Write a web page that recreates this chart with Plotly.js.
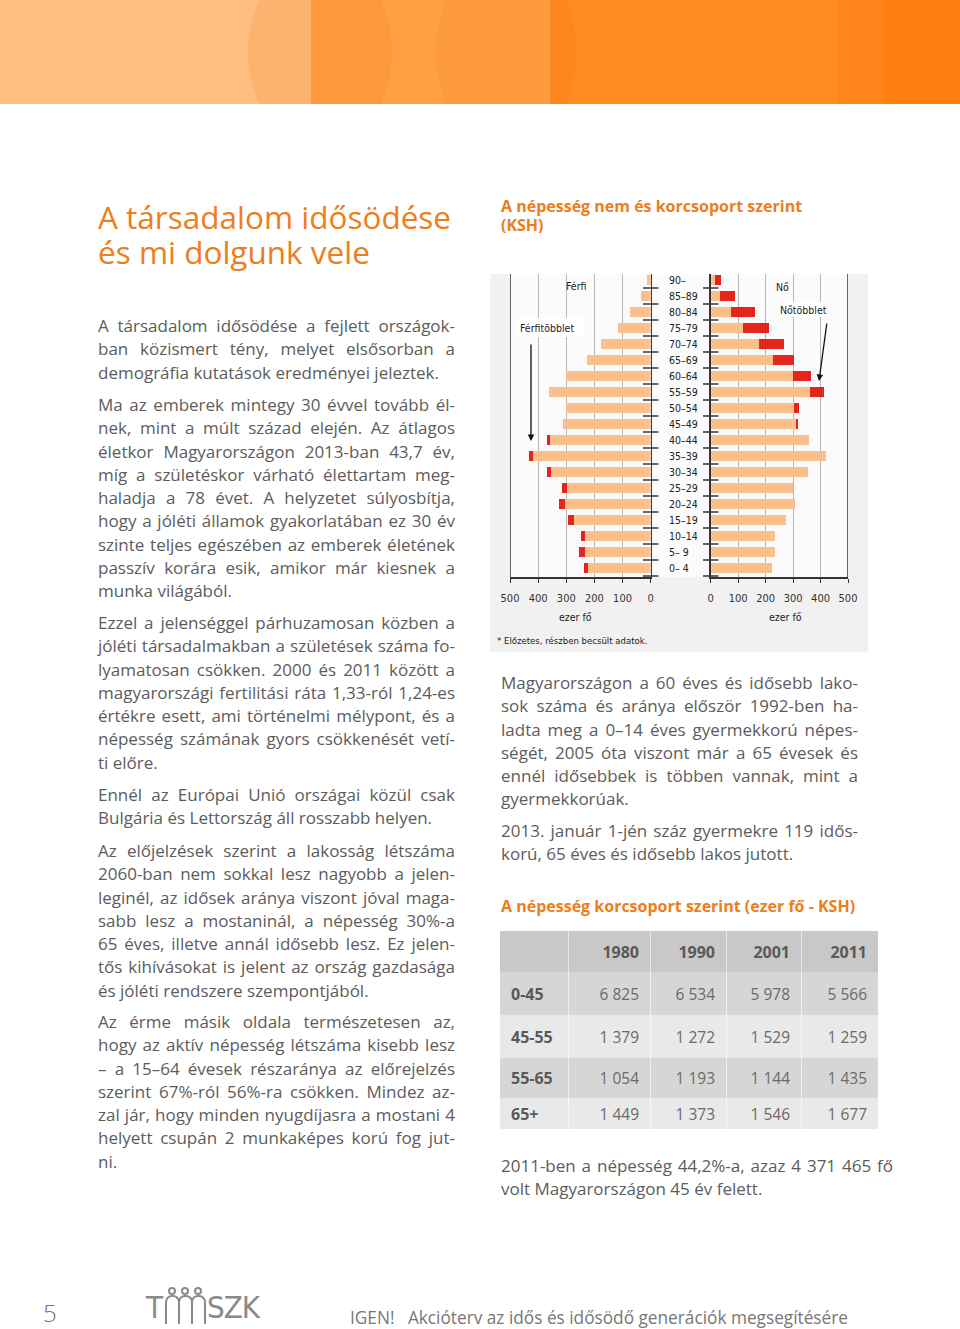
<!DOCTYPE html>
<html><head><meta charset="utf-8">
<script src="https://cdn.plot.ly/plotly-3.0.1.min.js"></script>
<style>
html,body{margin:0;padding:0;background:#fff;}
#page{position:relative;width:960px;height:1329px;overflow:hidden;font-family:'Open Sans',sans-serif;background:#fff;}
.abs{position:absolute;}
.para{position:absolute;font-size:17px;line-height:23.25px;color:#5c5c5c;}
.para .ln{white-space:pre;}
.cell{position:absolute;box-sizing:border-box;display:flex;align-items:center;font-size:15.5px;color:#6a6a6a;border-right:1px solid rgba(255,255,255,0.6);}
.logotxt{position:absolute;white-space:nowrap;font-size:31px;line-height:40px;font-weight:400;color:#8a8a8a;overflow:visible;}
</style></head>
<body><div id="page">
  <!-- banner -->
  <div class="abs" style="left:0;top:0;width:960px;height:104px;background:#ff8b21;overflow:hidden">
    <div class="abs" style="left:0;top:0;width:311px;height:104px;background:#ffbd80"></div>
    <div class="abs" style="left:311px;top:0;width:239px;height:104px;background:#ffa045"></div>
    <div class="abs" style="left:837px;top:0;width:46px;height:104px;background:#ff851a"></div>
    <div class="abs" style="left:883px;top:0;width:77px;height:104px;background:#ff7f10"></div>
    <div class="abs" style="left:248px;top:-45px;width:144px;height:194px;border-radius:50%;background:rgba(235,110,0,0.12)"></div>
    <div class="abs" style="left:436px;top:-45px;width:140px;height:194px;border-radius:50%;background:rgba(235,110,0,0.10)"></div>
  </div>

  <div class="abs" id="title1" style="left:98px;top:199px;font-size:31.5px;line-height:35px;color:#ee7d1b;white-space:pre">A társadalom idősödése
és mi dolgunk vele</div>

  <div class="abs" style="left:501px;top:197px;font-size:16px;line-height:19px;font-weight:700;color:#ee7d1b;white-space:pre">A népesség nem és korcsoport szerint
(KSH)</div>

  <div class="abs" style="left:501px;top:897px;font-size:16px;line-height:19px;font-weight:700;color:#ee7d1b;white-space:pre">A népesség korcsoport szerint (ezer fő - KSH)</div>

  <!-- chart box -->
  <div class="abs" style="left:490px;top:274px;width:378px;height:378px;background:#f1f1f1"></div>
  <div class="abs" id="chart" style="left:490px;top:274px;width:378px;height:378px"></div>

  <div id="table"></div>

  <!-- footer -->
  <div class="abs" style="left:43px;top:1296px;font-size:24px;line-height:34px;color:#6f6f6f;font-weight:300">5</div>
  <div class="abs" id="logo" style="left:146px;top:1280px;width:170px;height:49px"></div>
  <div class="abs" id="foot" style="left:350px;top:1305px;font-size:18px;line-height:24px;color:#777;white-space:pre;transform-origin:0 0">IGEN!   Akcióterv az idős és idősödő generációk megsegítésére</div>
</div>
<script>
// ---------------- data ----------------
const ageGroups = ['0– 4','5– 9','10–14','15–19','20–24','25–29','30–34','35–39','40–44','45–49','50–54','55–59','60–64','65–69','70–74','75–79','80–84','85–89','90–'];
const men   = [238,254,249,293,326,316,368,434,369,310,302,362,300,226,175,116,74,34,14];
const women = [223,233,233,274,306,298,354,420,359,317,322,412,367,304,268,213,162,89,36];
const axisTicks = [0,100,200,300,400,500];

const tableYears  = ['1980','1990','2001','2011'];
const tableGroups = ['0-45','45-55','55-65','65+'];
const tableValues = [
  [6825,6534,5978,5566],
  [1379,1272,1529,1259],
  [1054,1193,1144,1435],
  [1449,1373,1546,1677]
];

// ---------------- pyramid ----------------
const idx = ageGroups.map((_,i)=>i);
const common = men.map((m,i)=>Math.min(m,women[i]));
const menExtra = men.map((m,i)=>m-common[i]);
const womenExtra = women.map((w,i)=>w-common[i]);
const edges = ageGroups.map((_,i)=>i-0.5);

const ORANGE='#fbbf8b', RED='#e3261d';
const cf = 'Liberation Sans Narrow, DejaVu Sans Condensed, Liberation Sans, Arial, sans-serif';
const W=378, H=378, plotTop=274, plotBot=577, boxLeft=490;
const px = x => (x-boxLeft)/W;
const py = y => (plotBot-y)/(plotBot-plotTop);

const traces = [
  {type:'bar',orientation:'h',x:common,y:idx,xaxis:'x',yaxis:'y',marker:{color:ORANGE},hoverinfo:'skip'},
  {type:'bar',orientation:'h',x:menExtra,y:idx,xaxis:'x',yaxis:'y',marker:{color:RED},hoverinfo:'skip'},
  {type:'bar',orientation:'h',x:common,y:idx,xaxis:'x2',yaxis:'y2',marker:{color:ORANGE},hoverinfo:'skip'},
  {type:'bar',orientation:'h',x:womenExtra,y:idx,xaxis:'x2',yaxis:'y2',marker:{color:RED},hoverinfo:'skip'},
  {type:'scatter',mode:'markers',x:edges.map(()=>0),y:edges,xaxis:'x',yaxis:'y',cliponaxis:false,
   marker:{symbol:'line-ew',size:11,line:{width:1.5,color:'#333'}},hoverinfo:'skip'},
  {type:'scatter',mode:'markers',x:edges.map(()=>0),y:edges,xaxis:'x2',yaxis:'y2',cliponaxis:false,
   marker:{symbol:'line-ew',size:11,line:{width:1.5,color:'#333'}},hoverinfo:'skip'}
];

const xBase = {tickvals:axisTicks,ticktext:axisTicks.map(String),showgrid:true,gridcolor:'#b8b8b8',gridwidth:1,
  zeroline:false,showline:true,linecolor:'#333',linewidth:1.5,ticks:'outside',ticklen:4,tickcolor:'#333',
  tickfont:{family:cf,size:11,color:'#333'},ticklabelstandoff:6,fixedrange:true};
const yBase = {range:[-0.5625,18.375],showline:true,linecolor:'#333',linewidth:1.5,showticklabels:false,
  showgrid:false,zeroline:false,ticks:'',fixedrange:true};

const ann = [];
ageGroups.forEach((g,i)=>ann.push({xref:'paper',yref:'y',x:px(667),y:i,xanchor:'left',yanchor:'middle',
  text:g,showarrow:false,font:{family:cf,size:10.5,color:'#222'}}));
const lab = (t,x,y,xa,sz)=>ann.push({xref:'paper',yref:'paper',x:px(x),y:py(y),xanchor:xa||'center',yanchor:'middle',
  text:t,showarrow:false,font:{family:cf,size:sz||10.5,color:'#222'}});
lab('Férfi',576,286);
lab('Nő',782,287);
lab('Férfitöbblet',518,328,'left');
lab('Nőtöbblet',803.5,310);
lab('ezer fő',575,617);
lab('ezer fő',785,617);
lab('* Előzetes, részben becsült adatok.',495,640,'left',9.5);
ann.push({xref:'paper',yref:'paper',x:px(531),y:py(441),ax:0,ay:-98,text:'',showarrow:true,arrowhead:2,arrowsize:1,arrowwidth:1.3,arrowcolor:'#111'});
ann.push({xref:'paper',yref:'paper',x:px(819),y:py(381),ax:8,ay:-59,text:'',showarrow:true,arrowhead:2,arrowsize:1,arrowwidth:1.3,arrowcolor:'#111'});

const shapes = [
  {type:'rect',xref:'paper',yref:'paper',x0:px(510),x1:px(848),y0:0,y1:1,fillcolor:'#fbfbfb',line:{width:0},layer:'below'},
  {type:'line',xref:'x',yref:'paper',x0:500,x1:500,y0:0,y1:1,line:{color:'#333',width:1.5}},
  {type:'line',xref:'x2',yref:'paper',x0:500,x1:500,y0:0,y1:1,line:{color:'#333',width:1.5}},
  {type:'rect',xref:'paper',yref:'paper',x0:px(516),x1:px(583),y0:py(337),y1:py(318),fillcolor:'#ffffff',line:{width:0},layer:'above'},
  {type:'rect',xref:'paper',yref:'paper',x0:px(782),x1:px(825),y0:py(317),y1:py(302),fillcolor:'#ffffff',line:{width:0},layer:'above'}
];

const layout = {
  width:W,height:H,margin:{l:0,r:0,t:plotTop-274,b:H-(plotBot-274)},
  paper_bgcolor:'rgba(0,0,0,0)',plot_bgcolor:'rgba(0,0,0,0)',
  showlegend:false,barmode:'stack',bargap:0.32,
  xaxis:Object.assign({},xBase,{domain:[px(510),px(650.7)],range:[500,0],anchor:'y'}),
  yaxis:Object.assign({},yBase,{anchor:'x',side:'right'}),
  xaxis2:Object.assign({},xBase,{domain:[px(710.7),px(848)],range:[0,500],anchor:'y2'}),
  yaxis2:Object.assign({},yBase,{anchor:'x2',side:'left',matches:'y'}),
  annotations:ann,shapes:shapes,hovermode:false
};
Plotly.newPlot('chart',traces,layout,{staticPlot:true,displayModeBar:false});

// ---------------- table ----------------
const fmt = v => String(v).replace(/\B(?=(\d{3})+(?!\d))/g,' ');
const rowTops=[931,972,1015,1058,1098], rowH=[41,43,43,40,31];
const colL=[500,569,651,727,802], colW=[69,82,76,75,76];
const rowBg=['#c8c8c8','#d6d6d6','#e9e9e9','#d6d6d6','#e9e9e9'];
const tbl=document.getElementById('table');
function cell(r,c,text,bold){
  const d=document.createElement('div');d.className='cell';
  d.style.left=colL[c]+'px';d.style.top=rowTops[r]+'px';d.style.width=colW[c]+'px';d.style.height=rowH[r]+'px';
  d.style.background=rowBg[r];
  if(c===colL.length-1) d.style.borderRight='none';
  if(c===0){d.style.justifyContent='flex-start';d.style.paddingLeft='11px';}
  else {d.style.justifyContent='flex-end';d.style.paddingRight='11px';}
  if(bold){d.style.fontWeight='700';d.style.color='#595959';d.style.fontSize='16px';}
  d.textContent=text; tbl.appendChild(d);
}
cell(0,0,'',true);
tableYears.forEach((y,j)=>cell(0,j+1,y,true));
tableGroups.forEach((g,i)=>{cell(i+1,0,g,true);tableValues[i].forEach((v,j)=>cell(i+1,j+1,fmt(v),false));});

// ---------------- text ----------------
const page=document.getElementById('page');
const paras=[
 [98,327,357,['A társadalom idősödése a fejlett országok-','ban közismert tény, melyet elsősorban a','demográfia kutatások eredményei jeleztek.']],
 [98,406,357,['Ma az emberek mintegy 30 évvel tovább él-','nek, mint a múlt század elején. Az átlagos','életkor Magyarországon 2013-ban 43,7 év,','míg a születéskor várható élettartam meg-','haladja a 78 évet. A helyzetet súlyosbítja,','hogy a jóléti államok gyakorlatában ez 30 év','szinte teljes egészében az emberek életének','passzív korára esik, amikor már kiesnek a','munka világából.']],
 [98,624,357,['Ezzel a jelenséggel párhuzamosan közben a','jóléti társadalmakban a születések száma fo-','lyamatosan csökken. 2000 és 2011 között a','magyarországi fertilitási ráta 1,33-ról 1,24-es','értékre esett, ami történelmi mélypont, és a','népesség számának gyors csökkenését vetí-','ti előre.']],
 [98,796,357,['Ennél az Európai Unió országai közül csak','Bulgária és Lettország áll rosszabb helyen.']],
 [98,852,357,['Az előjelzések szerint a lakosság létszáma','2060-ban nem sokkal lesz nagyobb a jelen-','leginél, az idősek aránya viszont jóval maga-','sabb lesz a mostaninál, a népesség 30%-a','65 éves, illetve annál idősebb lesz. Ez jelen-','tős kihívásokat is jelent az ország gazdasága','és jóléti rendszere szempontjából.']],
 [98,1023,357,['Az érme másik oldala természetesen az,','hogy az aktív népesség létszáma kisebb lesz','– a 15–64 évesek részaránya az előrejelzés','szerint 67%-ról 56%-ra csökken. Mindez az-','zal jár, hogy minden nyugdíjasra a mostani 4','helyett csupán 2 munkaképes korú fog jut-','ni.']],
 [501,684,357,['Magyarországon a 60 éves és idősebb lako-','sok száma és aránya először 1992-ben ha-','ladta meg a 0–14 éves gyermekkorú népes-','ségét, 2005 óta viszont már a 65 évesek és','ennél idősebbek is többen vannak, mint a','gyermekkorúak.']],
 [501,832,357,['2013. január 1-jén száz gyermekre 119 idős-','korú, 65 éves és idősebb lakos jutott.']],
 [501,1167,392,['2011-ben a népesség 44,2%-a, azaz 4 371 465 fő','volt Magyarországon 45 év felett.']]
];
const built=[];
paras.forEach(([x,yc,w,lines])=>{
  const p=document.createElement('div');p.className='para';
  p.style.left=x+'px';p.style.top=(yc-12.8)+'px';p.style.width=(w+40)+'px';
  const spans=lines.map(t=>{const d=document.createElement('div');d.className='ln';
    const s=document.createElement('span');s.textContent=t;d.appendChild(s);p.appendChild(d);return s;});
  page.appendChild(p);built.push([w,spans]);
});
function justify(){
  built.forEach(([w,spans])=>{
    spans.forEach((s,i)=>{
      s.style.wordSpacing='0px';s.style.letterSpacing='0px';
      const nat=s.getBoundingClientRect().width;
      const n=(s.textContent.match(/ /g)||[]).length;
      const last=i===spans.length-1;
      if(!last && n>0){
        let ws=(w-nat)/n;
        if(ws<-1.5){const ls=(w-nat+1.5*n)/s.textContent.length;s.style.letterSpacing=ls+'px';
          const nat2=s.getBoundingClientRect().width; ws=(w-nat2)/n;}
        s.style.wordSpacing=ws+'px';
      }
      else if(nat>w){s.style.letterSpacing=((w-nat)/s.textContent.length)+'px';}
    });
  });
  const f=document.getElementById('foot');f.style.transform='none';
  const fw=f.getBoundingClientRect().width;f.style.transform='scaleX('+(498/fw)+')';
}
justify();
if(document.fonts&&document.fonts.ready)document.fonts.ready.then(justify);

// ---------------- logo ----------------
(function(){
  const L=document.getElementById('logo');
  const col='#8a8a8a';
  const mk=(css,cls)=>{const d=document.createElement('div');d.style.position='absolute';if(cls)d.className=cls;d.style.cssText+=css;L.appendChild(d);return d;};
  mk('left:0;top:7px;width:30px;font-family:DejaVu Sans Condensed, Liberation Sans Narrow, Open Sans','logotxt').textContent='T';
  [26,39,52].forEach(cx=>{
    mk('left:'+(cx-4)+'px;top:7px;width:4px;height:4px;border:2px solid '+col+';border-radius:50%');
    mk('left:'+(cx-7.5)+'px;top:15px;width:11px;height:27px;border:2.5px solid '+col+';border-bottom:none;border-radius:7px 7px 0 0');
  });
  mk('left:61px;top:7px;width:70px;font-family:DejaVu Sans Condensed, Liberation Sans Narrow, Open Sans;letter-spacing:-1px','logotxt').textContent='SZK';
})();
</script>
</body></html>
